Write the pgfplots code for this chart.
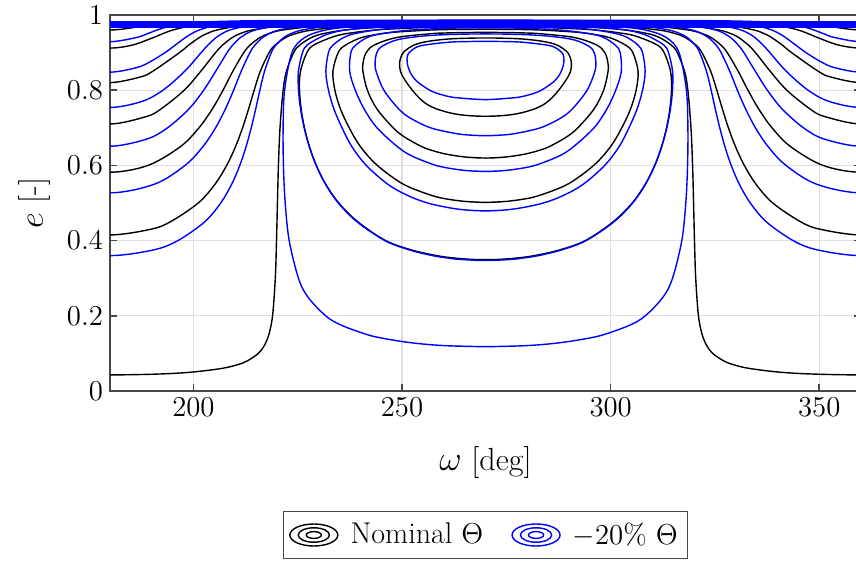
\documentclass[border=0pt]{standalone}
\usepackage{pgfplots}
\pgfplotsset{compat=1.18}

% contour-style legend icon: three concentric ellipses
\pgfplotsset{
  contourleg/.style={legend image code/.code={
      \draw[##1] (12pt,0pt) ellipse [x radius=12pt, y radius=5.5pt];
      \draw[##1] (12pt,0pt) ellipse [x radius=7.8pt, y radius=3.6pt];
      \draw[##1] (12pt,0pt) ellipse [x radius=3.8pt, y radius=1.7pt];
  }},
  nom/.style={black, line width=0.7pt, smooth, tension=0.55, forget plot},
  low/.style={blue, line width=0.7pt, smooth, tension=0.55, forget plot},
}

\begin{document}
\begin{tikzpicture}
\begin{axis}[
  at={(0,0)}, anchor=south west,
  width=375.5pt, height=188pt, scale only axis,
  xmin=180, xmax=360, ymin=0, ymax=1,
  xtick={200,250,300,350}, ytick={0,0.2,0.4,0.6,0.8,1},
  grid=major, major grid style={line width=0.6pt, draw=black!13},
  axis line style={line width=0.8pt, draw=black!72},
  tick style={line width=0.8pt, draw=black!72},
  tick align=inside, major tick length=3.5pt,
  ticklabel style={font=\fontsize{15}{18}\selectfont},
  xlabel={$\omega$ [deg]}, ylabel={$e$ [-]},
  label style={font=\fontsize{16}{19}\selectfont},
  xlabel style={at={(axis description cs:0.5,-0.1915)}, anchor=center},
  ylabel style={at={(axis description cs:-0.0999,0.5)}, anchor=center},
  legend columns=2,
  legend style={at={(0.5,-0.383)}, anchor=center, draw=black!72, line width=0.6pt,
    font=\fontsize{15}{18}\selectfont, inner xsep=3pt, inner ysep=3.5pt,
    /tikz/every odd column/.append style={column sep=4pt},
    /tikz/every even column/.append style={column sep=12pt}},
]
\addlegendimage{black, line width=0.7pt, contourleg}
\addlegendentry{Nominal $\Theta$}
\addlegendimage{blue, line width=0.7pt, contourleg}
\addlegendentry{$-20\%\ \Theta$}

% ---------------- nominal Theta (black) ----------------
% circulating branches
\addplot[nom] coordinates {(168.6,0.045) (180,0.0428) (191.4,0.045) (199.4,0.05) (206.78,0.06) (210.59,0.07) (212.91,0.08) (215.55,0.1) (216.94,0.12) (218.07,0.15) (218.96,0.2) (219.62,0.3) (219.91,0.4) (220.13,0.5) (220.37,0.6) (220.75,0.7) (221.5,0.8) (222.29,0.85) (224.03,0.9) (225.48,0.92) (228.28,0.94) (230.97,0.95) (236.13,0.96) (241.17,0.965) (251.95,0.97) (270,0.9719) (288.05,0.97) (298.83,0.965) (303.87,0.96) (309.03,0.95) (311.72,0.94) (314.52,0.92) (315.97,0.9) (317.71,0.85) (318.5,0.8) (319.25,0.7) (319.63,0.6) (319.87,0.5) (320.09,0.4) (320.38,0.3) (321.04,0.2) (321.93,0.15) (323.06,0.12) (324.45,0.1) (327.09,0.08) (329.41,0.07) (333.22,0.06) (340.6,0.05) (348.6,0.045) (360,0.0428) (371.4,0.045)};
\addplot[nom] coordinates {(170.29,0.43) (180,0.415) (189.71,0.43) (194.47,0.45) (201.15,0.5) (205.17,0.55) (207.97,0.6) (210.09,0.65) (211.78,0.7) (213.22,0.75) (214.56,0.8) (216.01,0.85) (218.13,0.9) (219.57,0.92) (222.1,0.94) (224.38,0.95) (228.54,0.96) (239.34,0.97) (263.59,0.975) (270,0.9751) (276.41,0.975) (300.66,0.97) (311.46,0.96) (315.62,0.95) (317.9,0.94) (320.43,0.92) (321.87,0.9) (323.99,0.85) (325.44,0.8) (326.78,0.75) (328.22,0.7) (329.91,0.65) (332.03,0.6) (334.83,0.55) (338.85,0.5) (345.53,0.45) (350.29,0.43) (360,0.415) (369.71,0.43)};
\addplot[nom] coordinates {(170.87,0.6) (180,0.5818) (189.13,0.6) (196.89,0.65) (201.33,0.7) (204.52,0.75) (207.09,0.8) (209.42,0.85) (212.07,0.9) (213.57,0.92) (215.93,0.94) (217.93,0.95) (221.38,0.96) (229.6,0.97) (241.8,0.975) (255.98,0.977) (270,0.9774) (284.02,0.977) (298.2,0.975) (310.4,0.97) (318.62,0.96) (322.07,0.95) (324.07,0.94) (326.43,0.92) (327.93,0.9) (330.58,0.85) (332.91,0.8) (335.48,0.75) (338.67,0.7) (343.11,0.65) (350.87,0.6) (360,0.5818) (369.13,0.6)};
\addplot[nom] coordinates {(171.27,0.73) (180,0.7102) (188.73,0.73) (192.21,0.75) (197.79,0.8) (201.73,0.85) (205.3,0.9) (206.99,0.92) (209.31,0.94) (211.1,0.95) (214.0,0.96) (220.41,0.97) (228.8,0.975) (242.2,0.978) (253.6,0.979) (270,0.9793) (286.4,0.979) (297.8,0.978) (311.2,0.975) (319.59,0.97) (326.0,0.96) (328.9,0.95) (330.69,0.94) (333.01,0.92) (334.7,0.9) (338.27,0.85) (342.21,0.8) (347.79,0.75) (351.27,0.73) (360,0.7102) (368.73,0.73)};
\addplot[nom] coordinates {(172.78,0.835) (180,0.8202) (187.22,0.835) (190.2,0.85) (196.65,0.9) (198.87,0.92) (201.41,0.94) (203.1,0.95) (205.6,0.96) (210.54,0.97) (216.43,0.975) (224.49,0.978) (229.55,0.979) (237.99,0.98) (261.27,0.981) (270,0.9811) (278.73,0.981) (302.01,0.98) (310.45,0.979) (315.51,0.978) (323.57,0.975) (329.46,0.97) (334.4,0.96) (336.9,0.95) (338.59,0.94) (341.13,0.92) (343.35,0.9) (349.8,0.85) (352.78,0.835) (360,0.8202) (367.22,0.835)};
\addplot[nom] coordinates {(174.63,0.92) (180,0.912) (185.37,0.92) (190.41,0.94) (192.57,0.95) (195.04,0.96) (198.91,0.97) (202.84,0.975) (214.53,0.98) (221.57,0.981) (238.87,0.982) (270,0.9823) (301.13,0.982) (318.43,0.981) (325.47,0.98) (337.16,0.975) (341.09,0.97) (344.96,0.96) (347.43,0.95) (349.59,0.94) (354.63,0.92) (360,0.912) (365.37,0.92)};
\addplot[nom] coordinates {(172.21,0.97) (180,0.9601) (187.79,0.97) (191.02,0.975) (198.08,0.98) (201.7,0.981) (209.0,0.982) (249.1,0.983) (270,0.9831) (290.9,0.983) (331.0,0.982) (338.3,0.981) (341.92,0.98) (348.98,0.975) (352.21,0.97) (360,0.9601) (367.79,0.97)};
% librating branches around 270 deg
\addplot[nom] coordinates {(273.19,0.35) (270,0.3492) (266.81,0.35) (262.62,0.3535) (258.3,0.36) (252.3,0.375) (246.07,0.4) (239.39,0.45) (234.83,0.5) (231.7,0.55) (229.45,0.6) (227.8,0.65) (226.61,0.7) (225.82,0.75) (225.43,0.8) (225.65,0.85) (227.19,0.9) (228.83,0.92) (232.98,0.94) (236.43,0.95) (243.59,0.96) (251.73,0.965) (258.32,0.967) (270,0.9677) (281.68,0.967) (288.27,0.965) (296.41,0.96) (303.57,0.95) (307.02,0.94) (311.17,0.92) (312.81,0.9) (314.35,0.85) (314.57,0.8) (314.18,0.75) (313.39,0.7) (312.2,0.65) (310.55,0.6) (308.3,0.55) (305.17,0.5) (300.61,0.45) (293.93,0.4) (287.7,0.375) (281.7,0.36) (277.38,0.3535) (273.19,0.35) (270,0.3492) (266.81,0.35)};
\addplot[nom] coordinates {(274.5,0.5038) (270,0.5017) (265.5,0.5038) (261.06,0.51) (257.13,0.52) (250.3,0.55) (244.07,0.6) (240.02,0.65) (237.33,0.7) (235.24,0.75) (233.9,0.8) (233.43,0.85) (234.69,0.9) (236.45,0.92) (240.3,0.94) (244.93,0.95) (249.04,0.955) (256.73,0.96) (259.45,0.961) (265,0.9618) (270,0.962) (275,0.9618) (280.55,0.961) (283.27,0.96) (290.96,0.955) (295.07,0.95) (299.7,0.94) (303.55,0.92) (305.31,0.9) (306.57,0.85) (306.1,0.8) (304.76,0.75) (302.67,0.7) (299.98,0.65) (295.93,0.6) (289.7,0.55) (282.87,0.52) (278.94,0.51) (274.5,0.5038) (270,0.5017) (265.5,0.5038)};
\addplot[nom] coordinates {(274.7,0.6221) (270,0.6195) (265.3,0.6221) (260.54,0.63) (257.13,0.64) (254.7,0.65) (250.66,0.675) (247.87,0.7) (243.99,0.75) (241.69,0.8) (240.63,0.85) (240.69,0.875) (241.41,0.9) (243.32,0.92) (248.66,0.94) (256.69,0.95) (259.99,0.952) (265,0.9533) (270,0.9537) (275,0.9533) (280.01,0.952) (283.31,0.95) (291.34,0.94) (296.68,0.92) (298.59,0.9) (299.31,0.875) (299.37,0.85) (298.31,0.8) (296.01,0.75) (292.13,0.7) (289.34,0.675) (285.3,0.65) (282.87,0.64) (279.46,0.63) (274.7,0.6221) (270,0.6195) (265.3,0.6221)};
\addplot[nom] coordinates {(273.2,0.7317) (270,0.7306) (266.8,0.7317) (263.7,0.735) (261.35,0.74) (258.29,0.75) (256.34,0.76) (255.04,0.77) (254.04,0.78) (252.46,0.8) (250.82,0.825) (249.62,0.85) (249.44,0.875) (250.31,0.9) (252.86,0.92) (256.32,0.93) (261.0,0.936) (265.5,0.9382) (270,0.9389) (274.5,0.9382) (279.0,0.936) (283.68,0.93) (287.14,0.92) (289.69,0.9) (290.56,0.875) (290.38,0.85) (289.18,0.825) (287.54,0.8) (285.96,0.78) (284.96,0.77) (283.66,0.76) (281.71,0.75) (278.65,0.74) (276.3,0.735) (273.2,0.7317) (270,0.7306) (266.8,0.7317)};

% ---------------- -20% Theta (blue) ----------------
% librating branches
\addplot[low] coordinates {(278.51,0.12) (270,0.118) (261.49,0.12) (256,0.1239) (251.03,0.13) (245.48,0.14) (241.62,0.15) (235.43,0.175) (231.69,0.2) (227.43,0.25) (225.17,0.3) (222.95,0.4) (221.99,0.5) (221.57,0.6) (221.49,0.7) (221.85,0.8) (223.62,0.9) (226.66,0.94) (231.71,0.96) (239.22,0.97) (249.52,0.975) (270,0.9771) (290.48,0.975) (300.78,0.97) (308.29,0.96) (313.34,0.94) (316.38,0.9) (318.15,0.8) (318.51,0.7) (318.43,0.6) (318.01,0.5) (317.05,0.4) (314.83,0.3) (312.57,0.25) (308.31,0.2) (304.57,0.175) (298.38,0.15) (294.52,0.14) (288.97,0.13) (284,0.1239) (278.51,0.12) (270,0.118) (261.49,0.12)};
\addplot[low] coordinates {(276.23,0.35) (270,0.347) (263.77,0.35) (261.03,0.3535) (257.31,0.36) (251.81,0.375) (245.89,0.4) (239.2,0.45) (234.73,0.5) (231.65,0.55) (229.41,0.6) (227.76,0.65) (226.54,0.7) (225.68,0.75) (225.18,0.8) (225.16,0.85) (226.14,0.9) (227.24,0.92) (230.28,0.94) (232.46,0.95) (236.47,0.96) (246.7,0.97) (252.99,0.9725) (270,0.9746) (287.01,0.9725) (293.3,0.97) (303.53,0.96) (307.54,0.95) (309.72,0.94) (312.76,0.92) (313.86,0.9) (314.84,0.85) (314.82,0.8) (314.32,0.75) (313.46,0.7) (312.24,0.65) (310.59,0.6) (308.35,0.55) (305.27,0.5) (300.8,0.45) (294.11,0.4) (288.19,0.375) (282.69,0.36) (278.97,0.3535) (276.23,0.35) (270,0.347) (263.77,0.35)};
\addplot[low] coordinates {(274.3,0.481) (270,0.479) (265.7,0.481) (261.48,0.487) (256.12,0.5) (251.34,0.52) (246.56,0.55) (241.43,0.6) (237.97,0.65) (235.61,0.7) (233.67,0.75) (232.36,0.8) (231.74,0.85) (232.36,0.9) (233.46,0.92) (235.99,0.94) (238.56,0.95) (243.6,0.96) (248.58,0.965) (260.2,0.97) (270,0.9708) (279.8,0.97) (291.42,0.965) (296.4,0.96) (301.44,0.95) (304.01,0.94) (306.54,0.92) (307.64,0.9) (308.26,0.85) (307.64,0.8) (306.33,0.75) (304.39,0.7) (302.03,0.65) (298.57,0.6) (293.44,0.55) (288.66,0.52) (283.88,0.5) (278.52,0.487) (274.3,0.481) (270,0.479) (265.7,0.481)};
\addplot[low] coordinates {(273.7,0.5855) (270,0.584) (266.3,0.5855) (262.66,0.59) (258.13,0.6) (252.35,0.625) (248.87,0.65) (243.99,0.7) (240.91,0.75) (238.79,0.8) (237.45,0.85) (237.73,0.9) (238.91,0.92) (241.64,0.94) (244.94,0.95) (252.15,0.96) (261.95,0.965) (270,0.9659) (278.05,0.965) (287.85,0.96) (295.06,0.95) (298.36,0.94) (301.09,0.92) (302.27,0.9) (302.55,0.85) (301.21,0.8) (299.09,0.75) (296.01,0.7) (291.13,0.65) (287.65,0.625) (281.87,0.6) (277.34,0.59) (273.7,0.5855) (270,0.584) (266.3,0.5855)};
\addplot[low] coordinates {(273.7,0.6805) (270,0.679) (266.3,0.6805) (262.74,0.685) (256.83,0.7) (252.1,0.725) (249.2,0.75) (245.65,0.8) (243.79,0.85) (243.55,0.875) (243.88,0.8975) (245.03,0.9155) (248.65,0.9335) (253.74,0.9425) (259,0.947) (265,0.9491) (270,0.9496) (275,0.9491) (281,0.947) (286.26,0.9425) (291.35,0.9335) (294.97,0.9155) (296.12,0.8975) (296.45,0.875) (296.21,0.85) (294.35,0.8) (290.8,0.75) (287.9,0.725) (283.17,0.7) (277.26,0.685) (273.7,0.6805) (270,0.679) (266.3,0.6805)};
\addplot[low] coordinates {(276.98,0.78) (270,0.775) (263.02,0.78) (260.46,0.785) (258.85,0.79) (256.61,0.8) (253.41,0.825) (251.84,0.85) (251.22,0.875) (251.41,0.8953) (252.98,0.9115) (255.11,0.9196) (261.21,0.9277) (265.5,0.9293) (270,0.93) (274.5,0.9293) (278.79,0.9277) (284.89,0.9196) (287.02,0.9115) (288.59,0.8953) (288.78,0.875) (288.16,0.85) (286.59,0.825) (283.39,0.8) (281.15,0.79) (279.54,0.785) (276.98,0.78) (270,0.775) (263.02,0.78)};
% circulating branches
\addplot[low] coordinates {(169.65,0.375) (180,0.36) (190.35,0.375) (196.27,0.4) (202.7,0.45) (206.54,0.5) (209.17,0.55) (211.11,0.6) (212.62,0.65) (213.85,0.7) (214.92,0.75) (215.92,0.8) (217.03,0.85) (218.66,0.9) (219.76,0.92) (221.64,0.94) (223.27,0.95) (226.05,0.96) (232.14,0.97) (239.5,0.975) (249.66,0.978) (256.86,0.979) (270,0.9795) (283.14,0.979) (290.34,0.978) (300.5,0.975) (307.86,0.97) (313.95,0.96) (316.73,0.95) (318.36,0.94) (320.24,0.92) (321.34,0.9) (322.97,0.85) (324.08,0.8) (325.08,0.75) (326.15,0.7) (327.38,0.65) (328.89,0.6) (330.83,0.55) (333.46,0.5) (337.3,0.45) (343.73,0.4) (349.65,0.375) (360,0.36) (370.35,0.375)};
\addplot[low] coordinates {(169.35,0.55) (180,0.527) (190.65,0.55) (197.99,0.6) (202.27,0.65) (205.31,0.7) (207.66,0.75) (209.63,0.8) (211.44,0.85) (213.54,0.9) (214.73,0.92) (216.56,0.94) (218.04,0.95) (220.48,0.96) (225.55,0.97) (231.27,0.975) (238.16,0.978) (247.46,0.98) (257.48,0.981) (270,0.9813) (282.52,0.981) (292.54,0.98) (301.84,0.978) (308.73,0.975) (314.45,0.97) (319.52,0.96) (321.96,0.95) (323.44,0.94) (325.27,0.92) (326.46,0.9) (328.56,0.85) (330.37,0.8) (332.34,0.75) (334.69,0.7) (337.73,0.65) (342.01,0.6) (349.35,0.55) (360,0.527) (370.65,0.55)};
\addplot[low] coordinates {(171.19,0.67) (180,0.651) (188.81,0.67) (193.8,0.7) (198.9,0.75) (202.45,0.8) (205.31,0.85) (208.08,0.9) (209.41,0.92) (211.25,0.94) (212.64,0.95) (214.8,0.96) (219.07,0.97) (223.65,0.975) (228.81,0.978) (234.97,0.98) (248.22,0.982) (270,0.9828) (291.78,0.982) (305.03,0.98) (311.19,0.978) (316.35,0.975) (320.93,0.97) (325.2,0.96) (327.36,0.95) (328.75,0.94) (330.59,0.92) (331.92,0.9) (334.69,0.85) (337.55,0.8) (341.1,0.75) (346.2,0.7) (351.19,0.67) (360,0.651) (368.81,0.67)};
\addplot[low] coordinates {(172.38,0.77) (180,0.754) (187.62,0.77) (192.69,0.8) (197.88,0.85) (201.85,0.9) (203.47,0.92) (205.43,0.94) (206.78,0.95) (208.73,0.96) (212.34,0.97) (216.0,0.975) (219.96,0.978) (224.4,0.98) (232.62,0.982) (240.61,0.983) (262.05,0.984) (270,0.9841) (277.95,0.984) (299.39,0.983) (307.38,0.982) (315.6,0.98) (320.04,0.978) (324.0,0.975) (327.66,0.97) (331.27,0.96) (333.22,0.95) (334.57,0.94) (336.53,0.92) (338.15,0.9) (342.12,0.85) (347.31,0.8) (352.38,0.77) (360,0.754) (367.62,0.77)};
\addplot[low] coordinates {(173.63,0.86) (180,0.848) (186.37,0.86) (189.52,0.875) (193.2,0.9) (195.64,0.92) (198.08,0.94) (199.5,0.95) (201.35,0.96) (204.38,0.97) (207.23,0.975) (210.16,0.978) (213.3,0.98) (218.7,0.982) (231.44,0.984) (252.87,0.985) (270,0.9851) (287.13,0.985) (308.56,0.984) (321.3,0.982) (326.7,0.98) (329.84,0.978) (332.77,0.975) (335.62,0.97) (338.65,0.96) (340.5,0.95) (341.92,0.94) (344.36,0.92) (346.8,0.9) (350.48,0.875) (353.63,0.86) (360,0.848) (366.37,0.86)};
\addplot[low] coordinates {(173.7,0.94) (180,0.929) (186.3,0.94) (188.91,0.95) (191.28,0.96) (194.16,0.97) (196.34,0.975) (200.42,0.98) (203.7,0.982) (210.54,0.984) (218.64,0.985) (250.57,0.986) (270,0.9862) (289.43,0.986) (321.36,0.985) (329.46,0.984) (336.3,0.982) (339.58,0.98) (343.66,0.975) (345.84,0.97) (348.72,0.96) (351.09,0.95) (353.7,0.94) (360,0.929) (366.3,0.94)};
% densely packed levels just below the upper limit of e
\addplot[blue, line width=3.2pt, forget plot] coordinates {(180,0.9745) (360,0.9745)};
\end{axis}
\pgfresetboundingbox
\useasboundingbox (-55pt,-87pt) rectangle (373pt,195.5pt);
\end{tikzpicture}
\end{document}
